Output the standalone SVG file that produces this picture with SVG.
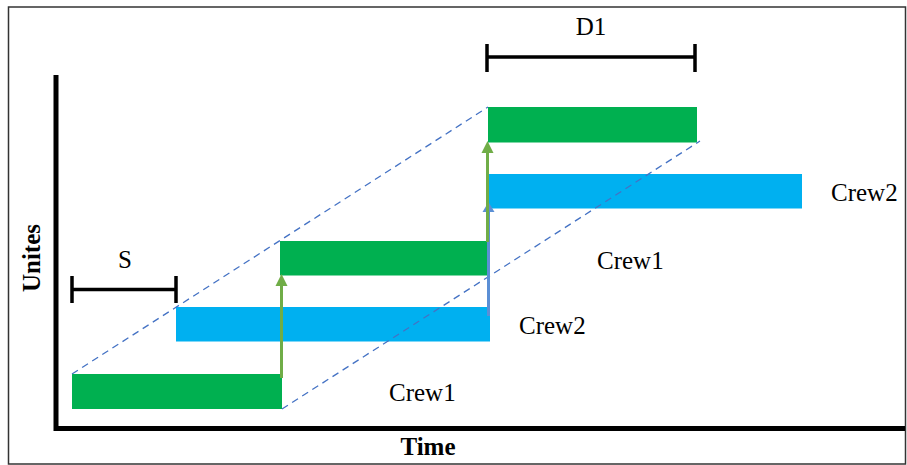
<svg xmlns="http://www.w3.org/2000/svg" width="907" height="465" viewBox="0 0 907 465">
  <style>
    .g { fill: #00B050; }
    .b { fill: #00B0F0; }
    .lbl { font-family: "Liberation Serif", "Times New Roman", serif; font-size: 25px; fill: #000; }
    .ax { font-family: "Liberation Serif", "Times New Roman", serif; font-size: 25px; font-weight: bold; fill: #000; }
    .dash { stroke: #4472C4; stroke-width: 1.3; stroke-dasharray: 7 5; fill: none; }
    .br { stroke: #000; stroke-width: 3.5; fill: none; }
  </style>
  <rect x="8.5" y="7" width="897" height="457" fill="#fff" stroke="#333" stroke-width="1.5"/>
  <g id="axes">
    <path d="M56,75 V428.5 H905" stroke="#000" stroke-width="5" fill="none"/>
    <text class="ax" x="0" y="0" text-anchor="middle" transform="translate(40,258) rotate(-90)">Unites</text>
    <text class="ax" x="428" y="455" text-anchor="middle">Time</text>
  </g>
  <g id="bar-g1"><rect class="g" x="72" y="374" width="210" height="35"/></g>
  <g id="bar-b1"><rect class="b" x="176" y="307" width="314" height="34.5"/></g>
  <g id="bar-g2"><rect class="g" x="280" y="241" width="208" height="34.5"/></g>
  <g id="bar-b2"><rect class="b" x="488" y="174" width="314" height="34.5"/></g>
  <g id="bar-g3"><rect class="g" x="488" y="107" width="209" height="35.5"/></g>
  <g id="connectors">
    <line class="dash" x1="72" y1="374" x2="488" y2="107"/>
    <line class="dash" x1="282" y1="409" x2="700" y2="141"/>
    <line x1="488.5" y1="316" x2="488.5" y2="211" stroke="#5B8FD5" stroke-width="3"/>
    <polygon points="488.5,202 482.5,212 494.5,212" fill="#5B8FD5"/>
    <line x1="281.5" y1="378" x2="281.5" y2="285" stroke="#70AD47" stroke-width="3"/>
    <polygon points="281.5,274 275.5,286 287.5,286" fill="#70AD47"/>
    <line x1="487.5" y1="242" x2="487.5" y2="152" stroke="#70AD47" stroke-width="3"/>
    <polygon points="487.5,141 481.5,153 493.5,153" fill="#70AD47"/>
  </g>
  <g id="S">
    <path class="br" d="M72,276 V303 M72,289.5 H176 M176,276 V303"/>
    <text class="lbl" x="125" y="268" text-anchor="middle">S</text>
  </g>
  <g id="D1">
    <path class="br" d="M487,44 V72 M487,57 H695 M695,44 V72"/>
    <text class="lbl" x="591" y="35" text-anchor="middle">D1</text>
  </g>
  <g id="labels">
    <text class="lbl" x="389" y="401">Crew1</text>
    <text class="lbl" x="519" y="334">Crew2</text>
    <text class="lbl" x="597" y="269">Crew1</text>
    <text class="lbl" x="831" y="201">Crew2</text>
  </g>
</svg>
